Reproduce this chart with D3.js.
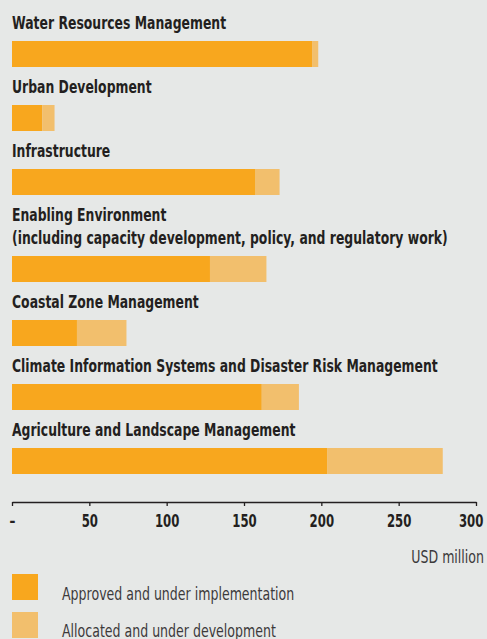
<!DOCTYPE html>
<html>
<head>
<meta charset="utf-8">
<title>Funding by area</title>
<script src="https://d3js.org/d3.v7.min.js"></script>
<style>
  html, body { margin: 0; padding: 0; background: #e6e8e7; }
  svg { display: block; }
  text { font-family: "DejaVu Sans", sans-serif; fill: #231f20; }
  .cat { font-weight: bold; font-size: 18px; }
  .tick text { font-weight: bold; font-size: 17px; }
  .unit, .leg { font-size: 17px; fill: #3c3a3b; }
</style>
</head>
<body>
<div id="chart"></div>
<script>
// categories, top to bottom (each entry is the label lines)
var categories = [
  ["Water Resources Management"],
  ["Urban Development"],
  ["Infrastructure"],
  ["Enabling Environment", "(including capacity development, policy, and regulatory work)"],
  ["Coastal Zone Management"],
  ["Climate Information Systems and Disaster Risk Management"],
  ["Agriculture and Landscape Management"]
];
// USD million
var approved  = [194, 19.5, 157.5, 128, 42, 161.5, 204];
var allocated = [4, 8, 15.5, 36.5, 32, 24, 74.5];
var tickValues = [0, 50, 100, 150, 200, 250, 300];
var seriesNames = ["Approved and under implementation", "Allocated and under development"];
var colors = ["#f8a71e", "#f2bf6d"];

var W = 487, H = 639;
// squeeze factors to mimic the narrow typeface
var boldSqueeze = 0.69, regSqueeze = 0.74;

var svg = d3.select("#chart").append("svg").attr("width", W).attr("height", H);

var x = d3.scaleLinear().domain([0, 300]).range([12, 476]);

// row layout: each row = label lines + bar
var lineH = 23, rowGap = 64, barH = 26, firstBar = 41;
var barTops = [];
var acc = firstBar;
categories.forEach(function(c, i) {
  if (i > 0) acc += rowGap + (c.length - 1) * lineH;
  barTops.push(acc);
});

var rows = svg.selectAll("g.row").data(categories).enter().append("g")
  .attr("class", "row")
  .attr("transform", function(d, i) { return "translate(0," + barTops[i] + ")"; });

rows.append("text").attr("class", "cat")
  .attr("transform", "translate(12,-12) scale(" + boldSqueeze + ",1)")
  .selectAll("tspan").data(function(d) { return d; }).enter().append("tspan")
  .attr("x", 0)
  .attr("y", function(d, j, arr) { return -(arr.length - 1 - j) * lineH; })
  .text(function(d) { return d; });

rows.append("rect")
  .attr("x", x(0))
  .attr("y", 0)
  .attr("height", barH)
  .attr("width", function(d, i) { return x(approved[i]) - x(0); })
  .attr("fill", colors[0]);

rows.append("rect")
  .attr("x", function(d, i) { return x(approved[i]); })
  .attr("y", 0)
  .attr("height", barH)
  .attr("width", function(d, i) { return x(approved[i] + allocated[i]) - x(approved[i]); })
  .attr("fill", colors[1]);

// axis
var axisY = 502;
var ax = svg.append("g").attr("transform", "translate(0," + axisY + ")")
  .call(d3.axisBottom(x).tickValues(tickValues).tickSize(4).tickSizeOuter(0).tickPadding(9)
    .tickFormat(function(d) { return d === 0 ? "–" : d; }));
ax.select(".domain").attr("stroke", "#231f20").attr("stroke-width", 1.3);
ax.selectAll(".tick line").attr("stroke", "#231f20").attr("stroke-width", 1.3);
ax.selectAll(".tick text").attr("fill", "#231f20").attr("font-family", null).attr("font-size", null)
  .attr("transform", "scale(" + boldSqueeze + ",1)");
// keep the last label inside the frame
ax.selectAll(".tick text").filter(function(d) { return d === 300; })
  .attr("text-anchor", "end").attr("x", 10);

svg.append("text").attr("class", "unit")
  .attr("transform", "translate(484,563) scale(" + regSqueeze + ",1)")
  .attr("text-anchor", "end")
  .text("USD million");

// legend
var leg = svg.selectAll("g.leg").data(seriesNames).enter().append("g")
  .attr("transform", function(d, i) { return "translate(12," + (574 + i * 38) + ")"; });
leg.append("rect").attr("width", 26).attr("height", 26)
  .attr("fill", function(d, i) { return colors[i]; });
leg.append("text").attr("class", "leg")
  .attr("transform", function(d, i) { return "translate(50," + (26 - i) + ") scale(" + regSqueeze + ",1)"; })
  .text(function(d) { return d; });
</script>
</body>
</html>
